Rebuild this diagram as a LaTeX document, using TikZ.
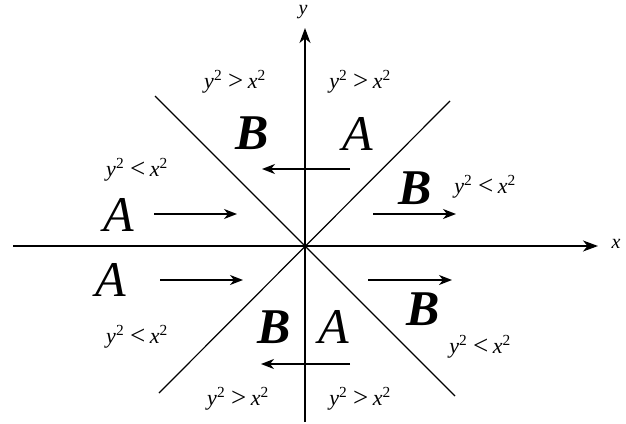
\documentclass[tikz,border=0pt]{standalone}
\usepackage{fontspec}
\setmainfont{Liberation Serif}
\usetikzlibrary{arrows.meta}
\tikzset{
  axis/.style={line width=1.5pt, -{Stealth[length=15pt,width=11pt,inset=4.5pt]}},
  diag/.style={line width=1.2pt},
  flow/.style={line width=1.5pt, -{Stealth[length=13pt,width=10pt,inset=4pt]}},
  ineq/.style={font=\fontsize{22}{24}\selectfont, inner sep=0pt},
  bigA/.style={font=\fontsize{50}{54}\selectfont\itshape, inner sep=0pt},
  bigB/.style={font=\fontsize{50}{54}\selectfont\bfseries\itshape, inner sep=0pt},
  axlab/.style={font=\fontsize{20}{22}\selectfont\itshape, inner sep=0pt}
}
\newcommand{\relsym}[1]{\raisebox{-1.2pt}{\fontsize{27}{27}\selectfont #1}}
\newcommand{\gtr}{\textit{y}\textsuperscript{2}\kern0.27em\relsym{>}\kern0.2em\textit{x}\textsuperscript{2}}
\newcommand{\lss}{\textit{y}\textsuperscript{2}\kern0.27em\relsym{<}\kern0.2em\textit{x}\textsuperscript{2}}
\begin{document}
\begin{tikzpicture}[x=1pt,y=-1pt]
\useasboundingbox (0,0) rectangle (626,423);
% axes
\coordinate (xl) at (13,246); \coordinate (xr) at (598,246);
\coordinate (yb) at (305,422); \coordinate (yt) at (305,28);
\draw[axis] (xl) -- (xr);
\draw[axis] (yb) -- (yt);
\node[axlab] (xlab) at (616,244) {x};
\node[axlab] (ylab) at (303,12) {y};
% diagonals
\coordinate (d1a) at (155,96); \coordinate (d1b) at (455,396);
\coordinate (d2a) at (450,101); \coordinate (d2b) at (159,393);
\draw[diag] (d1a) -- (d1b);
\draw[diag] (d2a) -- (d2b);
% flow arrows
\coordinate (t1) at (350,169); \coordinate (t2) at (262,169);
\coordinate (b1) at (350,364); \coordinate (b2) at (261,364);
\coordinate (lu1) at (154,214); \coordinate (lu2) at (237,214);
\coordinate (ll1) at (160,280); \coordinate (ll2) at (243,280);
\coordinate (ru1) at (373,214); \coordinate (ru2) at (456,214);
\coordinate (rl1) at (368,280); \coordinate (rl2) at (452,280);
\draw[flow] (t1) -- (t2);
\draw[flow] (b1) -- (b2);
\draw[flow] (lu1) -- (lu2);
\draw[flow] (ll1) -- (ll2);
\draw[flow] (ru1) -- (ru2);
\draw[flow] (rl1) -- (rl2);
% big letters
\node[bigB] (Bt) at (252,133) {B};
\node[bigA] (At) at (358,134) {A};
\node[bigA] (Alu) at (119,215) {A};
\node[bigA] (All) at (111,280) {A};
\node[bigB] (Bru) at (415,188) {B};
\node[bigB] (Brl) at (423,309) {B};
\node[bigB] (Bb) at (274,327) {B};
\node[bigA] (Ab) at (334,327) {A};
% inequality labels
\node[ineq] (i1) at (235,82) {\gtr};
\node[ineq] (i2) at (360,82) {\gtr};
\node[ineq] (i3) at (137,170) {\lss};
\node[ineq] (i4) at (485,187) {\lss};
\node[ineq] (i5) at (137,337) {\lss};
\node[ineq] (i6) at (480,347) {\lss};
\node[ineq] (i7) at (238,399) {\gtr};
\node[ineq] (i8) at (360,399) {\gtr};
\end{tikzpicture}
\end{document}
